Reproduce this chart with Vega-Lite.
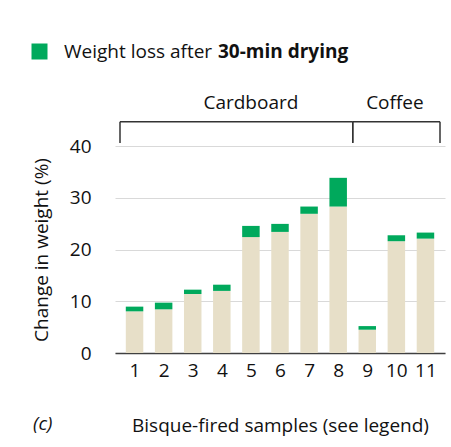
{
  "$schema": "https://vega.github.io/schema/vega-lite/v6.json",
  "autosize": {"type": "none"},
  "padding": {"left": 115, "top": 146, "right": 6, "bottom": 94},
  "width": 330,
  "height": 207,
  "config": {
    "font": "Open Sans",
    "view": {"stroke": null},
    "axis": {"labelFontSize": 19, "titleFontSize": 19, "labelColor": "#111", "titleColor": "#111", "titleFontWeight": "normal"},
    "axisX": {"labelOverlap": false, "labelFlush": false, "labelBound": false, "labelSeparation": 0}
  },
  "title": {"text": "(c)", "orient": "bottom", "anchor": "start", "frame": "group", "fontStyle": "italic", "fontWeight": "normal", "fontSize": 19, "color": "#111", "offset": 0, "dx": -82, "dy": -20},
  "datasets": {
    "samples": [
      {"sample": 1, "dried": 8.05, "total": 8.96},
      {"sample": 2, "dried": 8.44, "total": 9.73},
      {"sample": 3, "dried": 11.4, "total": 12.24},
      {"sample": 4, "dried": 12.0, "total": 13.2},
      {"sample": 5, "dried": 22.4, "total": 24.56},
      {"sample": 6, "dried": 23.4, "total": 24.95},
      {"sample": 7, "dried": 26.9, "total": 28.3},
      {"sample": 8, "dried": 28.3, "total": 33.85},
      {"sample": 9, "dried": 4.5, "total": 5.2},
      {"sample": 10, "dried": 21.6, "total": 22.75},
      {"sample": 11, "dried": 22.1, "total": 23.27}
    ],
    "groups": [
      {"group": "Cardboard", "start": 0.5, "end": 8.5, "labelAt": 5.0},
      {"group": "Coffee", "start": 8.5, "end": 11.5, "labelAt": 9.95}
    ]
  },
  "layer": [
    {
      "data": {"name": "samples"},
      "mark": {"type": "bar", "color": "#e7dfc8", "width": 17.5},
      "encoding": {
        "x": {"field": "sample", "type": "quantitative",
              "scale": {"domain": [0.5, 11.5], "nice": false, "zero": false},
              "axis": {"values": [1,2,3,4,5,6,7,8,9,10,11], "tickCount": 11, "grid": false, "ticks": false, "labelPadding": 8,
                       "labelOverlap": false, "labelFlush": false, "labelBound": false, "labelSeparation": 0,
                       "domainColor": "#404040", "domainWidth": 1.5, "title": "Bisque-fired samples (see legend)", "titlePadding": 36}},
        "y": {"field": "dried", "type": "quantitative",
              "scale": {"domain": [0, 40], "nice": false},
              "axis": {"values": [0,10,20,30,40], "domain": false, "ticks": false, "labelPadding": 24,
                       "gridColor": "#d9d9d9", "gridWidth": 1, "title": "Change in weight (%)", "titlePadding": 18}}
      }
    },
    {
      "data": {"name": "samples"},
      "mark": {"type": "bar", "width": 17.5},
      "encoding": {
        "x": {"field": "sample", "type": "quantitative",
              "axis": {"values": [1,2,3,4,5,6,7,8,9,10,11], "tickCount": 11, "grid": false, "ticks": false, "labelPadding": 8,
                       "labelOverlap": false, "labelFlush": false, "labelBound": false, "labelSeparation": 0,
                       "domainColor": "#404040", "domainWidth": 1.5, "title": "Bisque-fired samples (see legend)", "titlePadding": 36}},
        "y": {"field": "dried", "type": "quantitative"},
        "y2": {"field": "total"},
        "color": {"datum": "Weight loss after", "type": "nominal",
                  "scale": {"range": ["#00a95c"]},
                  "legend": {"title": "30-min drying", "titleOrient": "right", "orient": "none", "legendX": -85, "legendY": -104,
                             "symbolType": "square", "symbolSize": 256, "symbolStrokeWidth": 0, "labelFontSize": 19, "labelColor": "#111",
                             "titleFontSize": 19, "titleFontWeight": "bold", "titleColor": "#111", "titlePadding": 6, "labelOffset": 15}}
      }
    },
    {
      "data": {"name": "groups"},
      "mark": {"type": "rule", "color": "#333", "strokeWidth": 1.5},
      "encoding": {
        "x": {"field": "start", "type": "quantitative"},
        "x2": {"field": "end"},
        "y": {"datum": 44.7, "type": "quantitative"}
      }
    },
    {
      "data": {"name": "groups"},
      "mark": {"type": "rule", "color": "#333", "strokeWidth": 1.5},
      "encoding": {
        "x": {"field": "start", "type": "quantitative"},
        "y": {"datum": 40.6, "type": "quantitative"},
        "y2": {"datum": 44.7}
      }
    },
    {
      "data": {"name": "groups"},
      "mark": {"type": "rule", "color": "#333", "strokeWidth": 1.5},
      "encoding": {
        "x": {"field": "end", "type": "quantitative"},
        "y": {"datum": 40.6, "type": "quantitative"},
        "y2": {"datum": 44.7}
      }
    },
    {
      "data": {"name": "groups"},
      "mark": {"type": "text", "fontSize": 19, "color": "#111", "baseline": "middle"},
      "encoding": {
        "x": {"field": "labelAt", "type": "quantitative"},
        "y": {"datum": 48.4, "type": "quantitative"},
        "text": {"field": "group"}
      }
    }
  ]
}
